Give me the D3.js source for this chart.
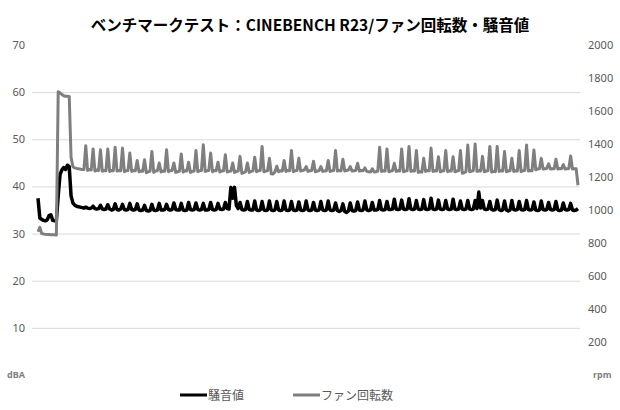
<!DOCTYPE html>
<html><head><meta charset="utf-8">
<script src="https://cdn.jsdelivr.net/npm/d3@7"></script>
<style>body{margin:0;background:#fff}svg{display:block}</style>
</head><body>
<script>
const title = "ベンチマークテスト：CINEBENCH R23/ファン回転数・騒音値";
const seriesNames = ["騒音値", "ファン回転数"];
const leftTicks = [0, 10, 20, 30, 40, 50, 60, 70];
const leftLabels = ["dBA", "10", "20", "30", "40", "50", "60", "70"];
const rightTicks = [0, 200, 400, 600, 800, 1000, 1200, 1400, 1600, 1800, 2000];
const rightLabels = ["rpm", "200", "400", "600", "800", "1000", "1200", "1400", "1600", "1800", "2000"];
const gridTicks = [10, 20, 30, 40, 50, 60];

// 騒音値 (dBA)
const noise = [
37.5,33.3,33.0,32.8,32.7,32.9,33.8,34.0,32.8,32.7,
32.7,38.0,42.5,43.5,44.0,43.6,44.5,44.2,38.0,36.5,
36.0,35.8,35.7,35.6,35.5,35.4,
35.6,35.4,35.3,35.4, 35.8,35.3,35.2,35.3, 36.0,35.2,35.1,35.2, 36.1,35.2,35.0,35.1,
36.3,35.1,35.0,35.2, 36.2,35.1,35.0,35.1, 36.4,35.1,35.0,35.1, 36.3,35.0,34.9,35.0,
36.0,34.9,34.8,34.9, 36.2,35.0,34.9,35.0, 36.4,35.0,35.0,35.1, 36.2,35.1,35.0,35.1,
36.5,35.1,35.0,35.0, 36.4,35.0,34.9,35.0, 36.6,35.1,35.0,35.1, 36.5,35.1,35.0,35.1,
36.4,35.0,35.0,35.1, 36.6,35.1,35.0,35.1, 36.4,35.2,35.1,35.2, 36.6,35.3,35.2,39.8,
37.5,39.8,36.0,35.3, 36.6,35.1,35.0,35.1, 36.8,35.1,35.0,35.0, 36.9,35.0,34.9,35.0,
36.8,35.0,34.9,35.0, 36.9,35.0,34.9,35.0, 36.8,35.0,34.9,35.0, 36.9,35.0,34.9,35.0,
36.8,35.0,34.9,35.0, 36.7,35.0,34.9,35.0, 36.9,35.0,34.9,35.0, 36.6,35.0,34.9,35.0,
36.8,35.0,34.9,35.0, 36.9,35.0,34.9,35.0, 36.5,34.9,34.7,34.9, 36.3,34.7,34.5,34.8,
36.5,34.9,34.8,34.9, 36.7,35.0,34.9,35.0, 36.9,35.0,34.9,35.0, 36.6,35.0,35.0,35.1,
37.0,35.1,35.0,35.1, 36.8,35.1,35.1,35.2, 37.3,35.2,35.1,35.2, 37.1,35.2,35.1,35.2,
37.4,35.2,35.1,35.2, 37.0,35.2,35.1,35.2, 37.2,35.2,35.1,35.2, 37.5,35.2,35.1,35.2,
37.1,35.2,35.1,35.2, 37.0,35.2,35.1,35.2, 37.3,35.2,35.1,35.2, 36.9,35.2,35.1,35.2,
37.0,35.2,35.1,35.2, 37.0,35.3,38.8,35.4, 37.0,35.2,35.1,35.2, 36.8,35.1,35.0,35.1,
37.1,35.1,34.9,35.0, 36.9,35.0,34.8,35.0, 37.0,35.1,35.0,35.1, 36.8,35.1,35.0,35.1,
37.0,35.1,35.0,35.1, 36.7,35.0,34.9,35.0, 36.9,35.1,35.0,35.1, 36.6,35.1,35.0,35.1,
36.8,35.0,34.9,35.0, 36.5,35.1,35.0,35.1, 36.4,35.0,34.9,35.0,
35.3
];
// ファン回転数 (rpm)
const fan = [
868,895,858,855,853,852,852,850,850,850,
848,1717,1710,1700,1692,1690,1690,1688,1320,1262,
1255,1252,1250,1248,1245,1245,
1390,1240,1245,1243, 1370,1236,1242,1240, 1365,1235,1240,1238, 1370,1234,1240,1238,
1380,1236,1240,1238, 1375,1232,1238,1240, 1345,1234,1240,1238, 1300,1232,1236,1235,
1305,1226,1232,1235, 1355,1228,1236,1238, 1285,1230,1236,1235, 1365,1232,1238,1240,
1285,1228,1232,1235, 1340,1230,1238,1236, 1290,1228,1234,1236, 1360,1232,1238,1240,
1395,1234,1238,1240, 1345,1232,1240,1238, 1290,1230,1236,1238, 1335,1230,1234,1236,
1285,1228,1234,1236, 1325,1222,1226,1232, 1285,1228,1234,1236, 1320,1232,1238,1240,
1385,1232,1236,1238, 1313,1220,1218,1230, 1265,1232,1238,1236, 1300,1234,1240,1238,
1360,1232,1238,1240, 1313,1236,1240,1242, 1263,1234,1238,1240, 1295,1232,1236,1238,
1263,1234,1236,1238, 1300,1234,1238,1240, 1360,1236,1240,1238, 1307,1236,1240,1242,
1263,1236,1238,1240, 1283,1236,1240,1238, 1255,1234,1232,1230, 1250,1230,1232,1236,
1380,1234,1238,1236, 1370,1232,1236,1238, 1283,1234,1238,1236, 1370,1232,1236,1238,
1385,1234,1238,1236, 1360,1228,1232,1230, 1313,1234,1240,1238, 1375,1234,1238,1236,
1323,1232,1236,1238, 1360,1232,1238,1236, 1323,1232,1236,1238, 1360,1222,1226,1232,
1394,1232,1236,1238, 1400,1234,1238,1236, 1325,1232,1236,1238, 1385,1230,1234,1232,
1385,1234,1238,1236, 1354,1232,1236,1238, 1313,1234,1238,1236, 1360,1232,1238,1240,
1394,1236,1240,1238, 1364,1244,1248,1250, 1313,1248,1250,1252, 1280,1248,1250,1250,
1307,1248,1252,1250, 1275,1248,1250,1252, 1327,1248,1250,1250,
1150
];

const W = 620, H = 410;
const svg = d3.select("body").append("svg").attr("width", W).attr("height", H)
  .style("font-family", "'Noto Sans', 'Noto Sans CJK JP', sans-serif");

const x = d3.scaleLinear().domain([0, noise.length - 1]).range([38, 578]);
const yL = d3.scaleLinear().domain([0, 70]).range([375, 45]);
const yR = d3.scaleLinear().domain([0, 2000]).range([375, 45]);

// gridlines
const grid = svg.append("g").attr("transform", "translate(32,0)")
  .call(d3.axisLeft(yL).tickValues(gridTicks).tickSize(-548).tickFormat(""));
grid.select(".domain").remove();
grid.selectAll("line").attr("stroke", "#d9d9d9").attr("stroke-width", 1);

// left axis
const ax1 = svg.append("g").attr("transform", "translate(32,0)")
  .call(d3.axisLeft(yL).tickValues(leftTicks).tickSize(0).tickPadding(7)
    .tickFormat((d, i) => leftLabels[i]));
ax1.select(".domain").remove();
ax1.selectAll("text").attr("fill", "#595959").style("font-size", "11px")
  .style("font-family", "'Noto Sans', sans-serif");
ax1.selectAll("text").filter((d, i) => i === 0).style("font-size", "9px").style("font-weight", "bold").attr("fill", "#7f7f7f");

// right axis
const ax2 = svg.append("g").attr("transform", "translate(580,0)")
  .call(d3.axisRight(yR).tickValues(rightTicks).tickSize(0).tickPadding(8)
    .tickFormat((d, i) => rightLabels[i]));
ax2.select(".domain").remove();
ax2.selectAll("text").attr("fill", "#595959").style("font-size", "11px")
  .style("font-family", "'Noto Sans', sans-serif");
ax2.selectAll("text").filter((d, i) => i === 0).style("font-size", "9px").style("font-weight", "bold").attr("fill", "#7f7f7f").attr("dx", 5);

// lines
const lineL = d3.line().x((d, i) => x(i)).y(d => yL(d));
const lineR = d3.line().x((d, i) => x(i)).y(d => yR(d));
svg.append("path").datum(noise).attr("d", lineL).attr("fill", "none")
  .attr("stroke", "#000").attr("stroke-width", 3.5).attr("stroke-linejoin", "round");
svg.append("path").datum(fan).attr("d", lineR).attr("fill", "none")
  .attr("stroke", "#7f7f7f").attr("stroke-width", 3).attr("stroke-linejoin", "round");

// title
svg.append("text").attr("x", 310).attr("y", 31).attr("text-anchor", "middle")
  .style("font-family", "'Noto Sans CJK JP', sans-serif").style("font-weight", "bold")
  .style("font-size", "15.5px").attr("fill", "#000").text(title);

// legend
const legendX = [180, 293];
const legendColors = ["#000", "#7f7f7f"];
const lg = svg.append("g");
seriesNames.forEach((name, i) => {
  lg.append("line").attr("x1", legendX[i]).attr("x2", legendX[i] + 27)
    .attr("y1", 395).attr("y2", 395).attr("stroke", legendColors[i]).attr("stroke-width", 3);
  lg.append("text").attr("x", legendX[i] + 28).attr("y", 399.5)
    .style("font-family", "'Noto Sans CJK JP', sans-serif").style("font-size", "12px")
    .attr("fill", "#595959").text(name);
});
</script>
</body></html>
